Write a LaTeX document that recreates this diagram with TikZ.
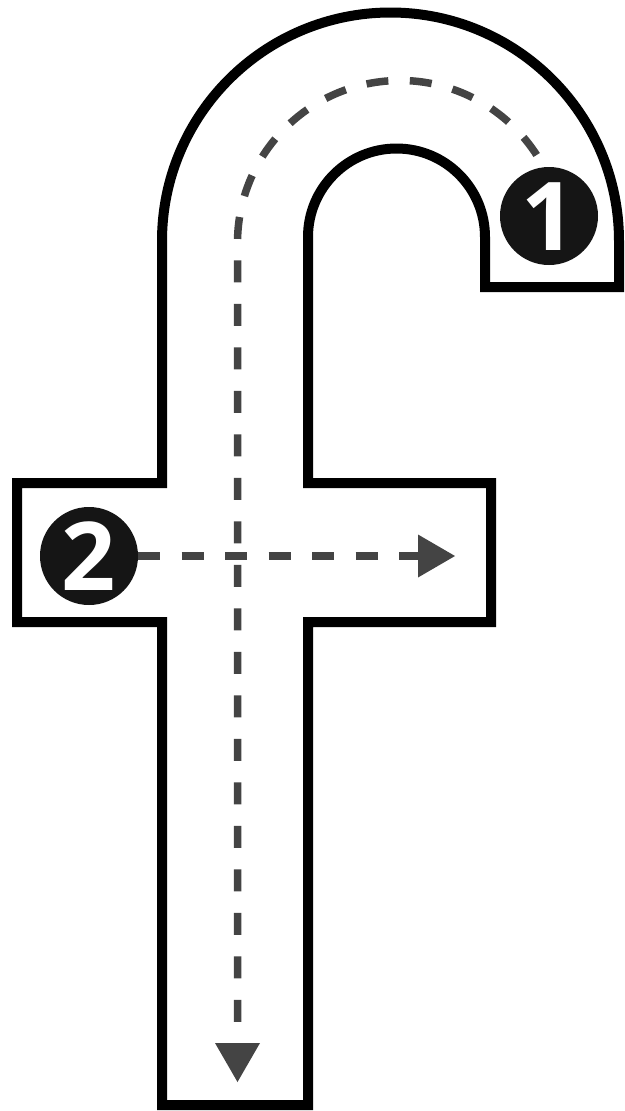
\documentclass[tikz,border=0pt]{standalone}
\usepackage{fontspec}
\newfontfamily\numfont{Open Sans}
\usetikzlibrary{arrows.meta}
\definecolor{routegray}{HTML}{444444}
\definecolor{badgeblack}{HTML}{151515}
\begin{document}
\begin{tikzpicture}[x=1pt,y=1pt,
  outline/.style={draw=black, line width=10pt, fill=white, line join=miter},
  route/.style={draw=routegray, line width=7.5pt, dash pattern=on 22pt off 21.5pt},
  badge/.style={circle, fill=badgeblack, minimum size=98pt, inner sep=0pt, text=white,
    font=\numfont\bfseries\fontsize{95}{95}\selectfont, text height=68pt, text depth=0pt}]
\useasboundingbox (0,0) rectangle (624,-1111);
\draw[outline] (162,-1105) -- (162,-622) -- (17,-622) -- (17,-483) -- (162,-483)
  -- (162,-241) arc[start angle=180,end angle=0,radius=228.5]
  -- (619,-287) -- (485,-287) -- (485,-237) arc[start angle=0,end angle=180,radius=88.5]
  -- (308,-483) -- (491,-483) -- (491,-622) -- (308,-622) -- (308,-1105) -- cycle;
\coordinate (s1) at (560.03,-214.78);
\coordinate (t1) at (237.5,-1082);
\draw[route, dash phase=22.4pt, -{Triangle[length=39pt,width=45pt,line width=0pt]}]
  (s1) arc[start angle=10,end angle=180,radius=162.5] -- (t1);
\node[badge] (c1) at (549,-216) {1};
\node[badge] (c2) at (89,-556) {2};
\coordinate (t2) at (455,-556);
\draw[route, -{Triangle[length=37pt,width=43pt,line width=0pt]}] (c2) -- (t2);
\end{tikzpicture}
\end{document}
